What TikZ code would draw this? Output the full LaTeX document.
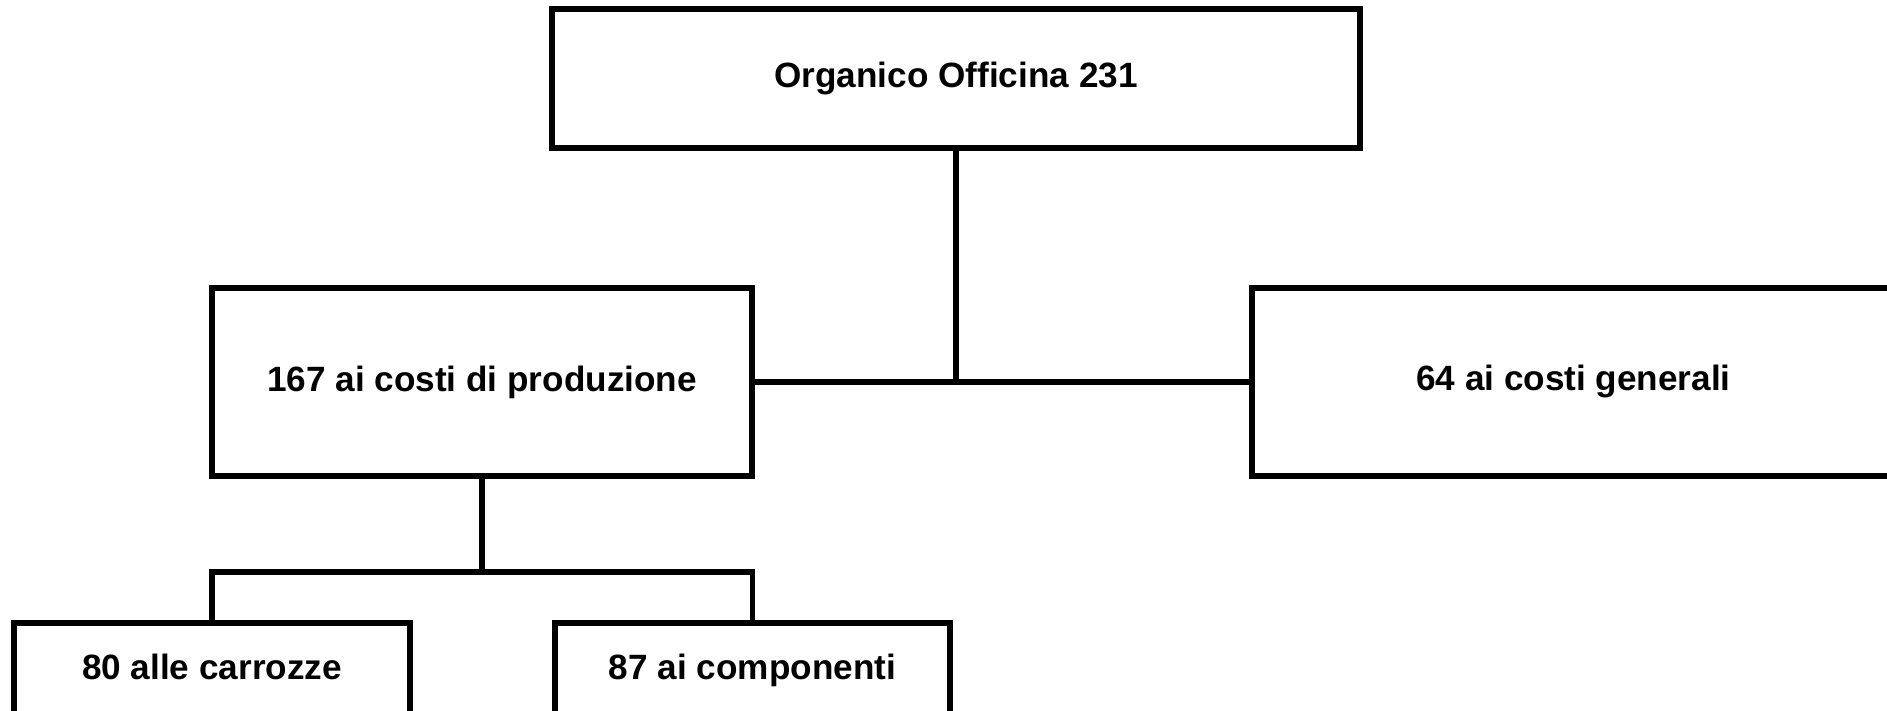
\documentclass[tikz,border=0pt]{standalone}
\usepackage{fontspec}
\setmainfont{Liberation Sans}
\usepackage{tikz}
\usetikzlibrary{positioning,calc}

\begin{document}
\begin{tikzpicture}[orgbox/.style={draw,rectangle,line width=1.6pt,inner sep=0pt,font=\fontsize{10}{12}\selectfont\bfseries},leafbox/.style={orgbox,anchor=north,inner ysep=0.3cm,text height=0.27cm,text depth=0.6cm},link/.style={line width=1.6pt}]
\useasboundingbox (0,0) rectangle (18.87,7.11);
\clip (0,0) rectangle (18.87,7.11);
\node (org) at (9.56,6.325)[orgbox,minimum width=8.08cm,minimum height=1.39cm] {Organico Officina 231};
\node (prod) at (4.82,3.29)[orgbox,minimum width=5.40cm,minimum height=1.88cm] {167 ai costi di produzione};
\node (gen) at (15.735,3.29)[orgbox,minimum width=6.43cm,minimum height=1.88cm] {64 ai costi generali};
\node (carr) at (2.12,0.91)[leafbox,minimum width=3.96cm] {80 alle carrozze};
\node (comp) at (7.525,0.91)[leafbox,minimum width=3.95cm] {87 ai componenti};
\coordinate (fork) at (4.82,1.39);
\draw[link] (org.south) -- (org.south |- prod.east);
\draw[link] (prod.east) -- (gen.west);
\draw[link] (prod.south) -- (fork);
\draw[link] (carr.north) |- (fork) -| (comp.north);
\end{tikzpicture}
\end{document}
